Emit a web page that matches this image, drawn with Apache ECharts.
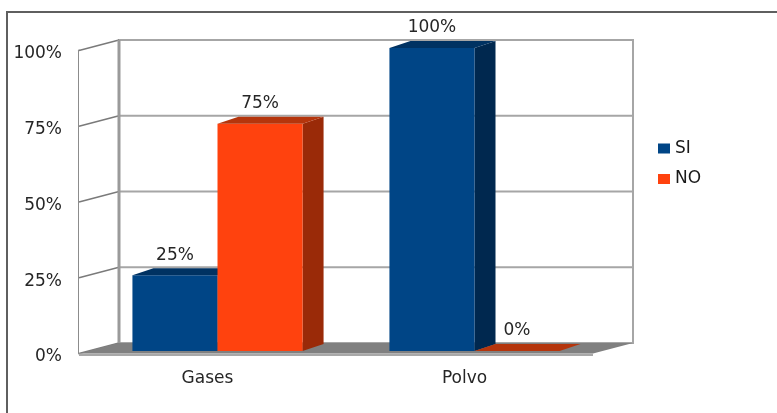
<!DOCTYPE html>
<html>
<head>
<meta charset="utf-8">
<script src="https://cdn.jsdelivr.net/npm/echarts@6/dist/echarts.min.js"></script>
<style>
  html, body { margin: 0; padding: 0; background: #fff; }
  #chart { width: 777px; height: 413px; }
</style>
</head>
<body>
<div id="chart"></div>
<script>
// Data
const categories = ['Gases', 'Polvo'];
const seriesNames = ['SI', 'NO'];
const siValues = [25, 100];
const noValues = [75, 0];

// Pseudo-3D geometry (pixels)
const WALL_DEPTH = [40, -10.5];   // front plane -> back wall
const BAR_PLANE = [10, -2.5];     // front plane -> bar front faces
const BAR_DEPTH = [21, -7];       // bar front face -> bar back
const BAR_RATIO = 0.331;          // bar width as share of the category band
const FONT = 'DejaVu Sans';
const FONT_SIZE = 17;
const TEXT_COLOR = '#262626';

const palette = {
  SI: { front: '#004586', top: '#003262', side: '#00284f' },
  NO: { front: '#ff420e', top: '#b5350c', side: '#9a2a08' }
};

function barRenderer(slot, shades) {
  return function (params, api) {
    const cat = api.value(0);
    const val = api.value(1);
    const base = api.coord([cat, 0]);
    const top = api.coord([cat, val]);
    const band = api.size([1, 0])[0];
    const bw = band * BAR_RATIO;
    const x0 = base[0] + (slot === 0 ? -bw : 0) + BAR_PLANE[0];
    const x1 = x0 + bw;
    const yb = base[1] + BAR_PLANE[1];
    const yt = top[1] + BAR_PLANE[1];
    const dx = BAR_DEPTH[0], dy = BAR_DEPTH[1];
    const children = [];
    if (yb - yt > 0.5) {
      children.push({
        type: 'polygon',
        shape: { points: [[x1, yt], [x1 + dx, yt + dy], [x1 + dx, yb + dy], [x1, yb]] },
        style: { fill: shades.side }
      });
      children.push({
        type: 'rect',
        shape: { x: x0, y: yt, width: bw, height: yb - yt },
        style: { fill: shades.front }
      });
    }
    children.push({
      type: 'polygon',
      shape: { points: [[x0, yt], [x0 + dx, yt + dy], [x1 + dx, yt + dy], [x1, yt]] },
      style: { fill: shades.top }
    });
    children.push({
      type: 'text',
      style: {
        text: val + '%',
        x: (x0 + x1) / 2,
        y: yt - 20,
        align: 'center',
        verticalAlign: 'middle',
        font: FONT_SIZE + 'px "' + FONT + '"',
        fill: TEXT_COLOR
      }
    });
    return { type: 'group', children: children };
  };
}

// Back wall, side wall and floor of the 3D box
function wallsRenderer(params, api) {
  const cs = params.coordSys;
  const dx = WALL_DEPTH[0], dy = WALL_DEPTH[1];
  const left = cs.x, right = cs.x + cs.width;
  const topY = cs.y, botY = cs.y + cs.height;
  const children = [];
  // side wall
  children.push({
    type: 'polygon',
    shape: { points: [[left, topY], [left + dx, topY + dy], [left + dx, botY + dy], [left, botY]] },
    style: { fill: '#fff' }
  });
  // back wall
  children.push({
    type: 'rect',
    shape: { x: left + dx, y: topY + dy, width: cs.width, height: cs.height },
    style: { fill: '#fff', stroke: '#a6a6a6', lineWidth: 2 }
  });
  // grid lines on the back wall and the side wall
  [0, 25, 50, 75, 100].forEach(function (v) {
    const p = api.coord([0, v]);
    const y = p[1];
    children.push({
      type: 'line',
      shape: { x1: left + dx, y1: y + dy, x2: right + dx, y2: y + dy },
      style: { stroke: '#a6a6a6', lineWidth: 2 }
    });
    children.push({
      type: 'line',
      shape: { x1: left, y1: y, x2: left + dx, y2: y + dy },
      style: { stroke: '#7a7a7a', lineWidth: 1.5 }
    });
  });
  // thicker corner edge
  children.push({
    type: 'line',
    shape: { x1: left + dx, y1: topY + dy, x2: left + dx, y2: botY + dy },
    style: { stroke: '#9a9a9a', lineWidth: 3 }
  });
  // floor
  children.push({
    type: 'polygon',
    shape: { points: [[left, botY], [left + dx, botY + dy], [right + dx, botY + dy], [right, botY]] },
    style: { fill: '#808080' }
  });
  children.push({
    type: 'rect',
    shape: { x: left, y: botY, width: cs.width, height: 2.5 },
    style: { fill: '#a8a8a8' }
  });
  return { type: 'group', children: children };
}

const chart = echarts.init(document.getElementById('chart'), null, { renderer: 'canvas' });

chart.setOption({
  animation: false,
  backgroundColor: '#fff',
  textStyle: { fontFamily: FONT },
  graphic: [{
    type: 'rect',
    z: -10,
    shape: { x: 7, y: 12, width: 1000, height: 1000 },
    style: { fill: 'none', stroke: '#5f5f5f', lineWidth: 2 }
  }],
  grid: { left: 79, right: 184, top: 50.5, bottom: 59.5, containLabel: false },
  legend: {
    data: seriesNames,
    orient: 'vertical',
    left: 653,
    top: 135,
    itemWidth: 12,
    itemHeight: 10,
    itemGap: 13.5,
    icon: 'rect',
    textStyle: { fontFamily: FONT, fontSize: FONT_SIZE, color: '#1a1a1a', lineHeight: 17 }
  },
  xAxis: {
    type: 'category',
    data: categories,
    axisLine: { show: false },
    axisTick: { show: false },
    axisLabel: { margin: 17, fontSize: FONT_SIZE, color: TEXT_COLOR, fontFamily: FONT },
    splitLine: { show: false }
  },
  yAxis: {
    type: 'value',
    min: 0,
    max: 100,
    interval: 25,
    axisLine: { show: true, lineStyle: { color: '#8c8c8c', width: 2 } },
    axisTick: { show: false },
    splitLine: { show: false },
    axisLabel: {
      formatter: '{value}%', margin: 17, fontSize: FONT_SIZE, color: TEXT_COLOR,
      fontFamily: FONT, verticalAlign: 'top', lineHeight: 7
    }
  },
  series: [
    {
      name: 'SI',
      type: 'custom',
      z: 3,
      itemStyle: { color: palette.SI.front },
      encode: { x: 0, y: 1 },
      data: categories.map(function (c, i) { return [i, siValues[i]]; }),
      renderItem: barRenderer(0, palette.SI)
    },
    {
      name: 'NO',
      type: 'custom',
      z: 4,
      itemStyle: { color: palette.NO.front },
      encode: { x: 0, y: 1 },
      data: categories.map(function (c, i) { return [i, noValues[i]]; }),
      renderItem: barRenderer(1, palette.NO)
    },
    {
      name: 'box',
      type: 'custom',
      z: 1,
      silent: true,
      encode: { x: 0, y: 1 },
      data: [[0, 0]],
      renderItem: wallsRenderer
    }
  ]
});
</script>
</body>
</html>
